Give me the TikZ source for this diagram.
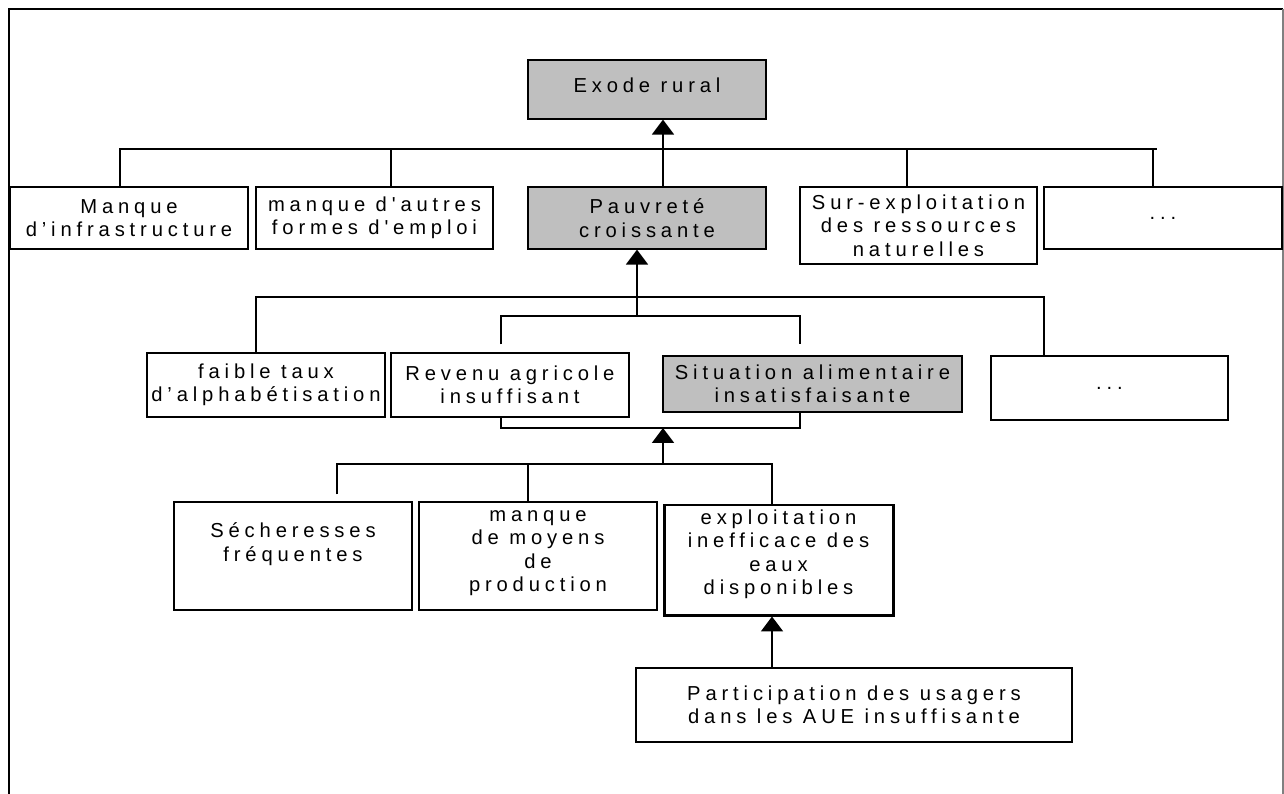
\documentclass[tikz,border=0pt]{standalone}
\usepackage{fontspec}
\newfontfamily\boxfont{Liberation Sans}[LetterSpace=24]
\usetikzlibrary{arrows.meta}
\newlength\px
\setlength\px{0.02cm}
\tikzset{
  box/.style={draw, line width=0.7pt, align=center, inner sep=0pt,
    font=\boxfont\fontsize{11.5}{13.3}\selectfont},
  greybox/.style={box, fill=gray!50},
  arr/.style={line width=1.1pt, -{Triangle[width=12.5pt,length=8.5pt]}},
  link/.style={line width=0.6pt},
}
\begin{document}
\begin{tikzpicture}[x=0.02cm, y=-0.02cm]
\useasboundingbox (0,0) rectangle (1284,794);
% frame
\draw[line width=1.3pt] (9,794) -- (9,9) -- (1283,9);
\draw[gray, line width=0.6pt] (1283,9) -- (1283,794);

% boxes
\node[greybox, minimum width=238\px, minimum height=59\px, text depth=5pt] (exode) at (647,89.5) {Exode rural};
\node[box, minimum width=238\px, minimum height=62\px] (manque) at (129,218) {Manque\\d’infrastructure};
\node[box, minimum width=237\px, minimum height=62\px] (autres) at (374.5,218) {manque d'autres\\formes d'emploi};
\node[greybox, minimum width=238\px, minimum height=62\px] (pauv) at (647,218) {Pauvreté\\croissante};
\node[box, minimum width=237\px, minimum height=77\px] (surexp) at (918.5,225.5) {Sur-exploitation\\des ressources\\naturelles};
\node[box, minimum width=238\px, minimum height=62\px] (dotsA) at (1163,218) {...};
\node[box, minimum width=238\px, minimum height=64\px] (faible) at (266,385) {faible taux\\d’alphabétisation};
\node[box, minimum width=238\px, minimum height=64\px] (revenu) at (510,385) {Revenu agricole\\insuffisant};
\node[greybox, minimum width=299\px, minimum height=56\px] (situation) at (812.5,384) {Situation alimentaire\\insatisfaisante};
\node[box, minimum width=237\px, minimum height=64\px] (dotsB) at (1109.5,388) {...};
\node[box, minimum width=238\px, minimum height=108\px, text depth=16pt] (sech) at (293,556) {Sécheresses\\fréquentes};
\node[box, minimum width=238\px, minimum height=108\px, text depth=5.5pt] (moyens) at (538,556) {manque\\de moyens\\de\\production};
\node[box, line width=1.7pt, minimum width=229\px, minimum height=110\px, text depth=9pt] (exploit) at (778.5,560) {exploitation\\inefficace des\\eaux\\disponibles};
\node[box, minimum width=436\px, minimum height=74\px] (partic) at (854,705) {Participation des usagers\\dans les AUE insuffisante};

\coordinate (busA) at (0,149);
\coordinate (busB) at (0,297);
\coordinate (brkT) at (637,316);
\coordinate (brkB) at (663,428);
\coordinate (busC) at (663,464);

% first level
\draw[link] ([xshift=-9\px]manque.north) |- ([xshift=-6\px]dotsA.north |- busA);
\foreach \n/\dx in {autres/16.5, surexp/-11.5, dotsA/-10}
  \draw[link] ([xshift=\dx\px]\n.north) -- ([xshift=\dx\px]\n.north |- busA);
\draw[arr] ([xshift=16\px]pauv.north) -- ([xshift=16\px]exode.south);

% second level
\draw[link] ([xshift=-10\px]faible.north) |- ([xshift=-65.5\px]dotsB.north |- busB) -- ([xshift=-65.5\px]dotsB.north);
\draw[arr] (brkT) -- (brkT |- pauv.south);
\draw[link] ([xshift=-9\px,yshift=8\px]revenu.north) |- (brkT) -| ([xshift=-12.5\px,yshift=11\px]situation.north);
\draw[link] ([xshift=-9\px]revenu.south) |- (brkB) -| ([xshift=-12.5\px]situation.south);
\draw[arr] (busC) -- (brkB);

% third level
\draw[link] ([xshift=44\px,yshift=7\px]sech.north) |- (busC) -| ([xshift=-6.5\px]exploit.north);
\draw[link] ([xshift=-10\px]moyens.north) -- ([xshift=-10\px]moyens.north |- busC);
\draw[arr] ([xshift=-82\px]partic.north) -- ([xshift=-82\px]partic.north |- exploit.south);
\end{tikzpicture}
\end{document}
